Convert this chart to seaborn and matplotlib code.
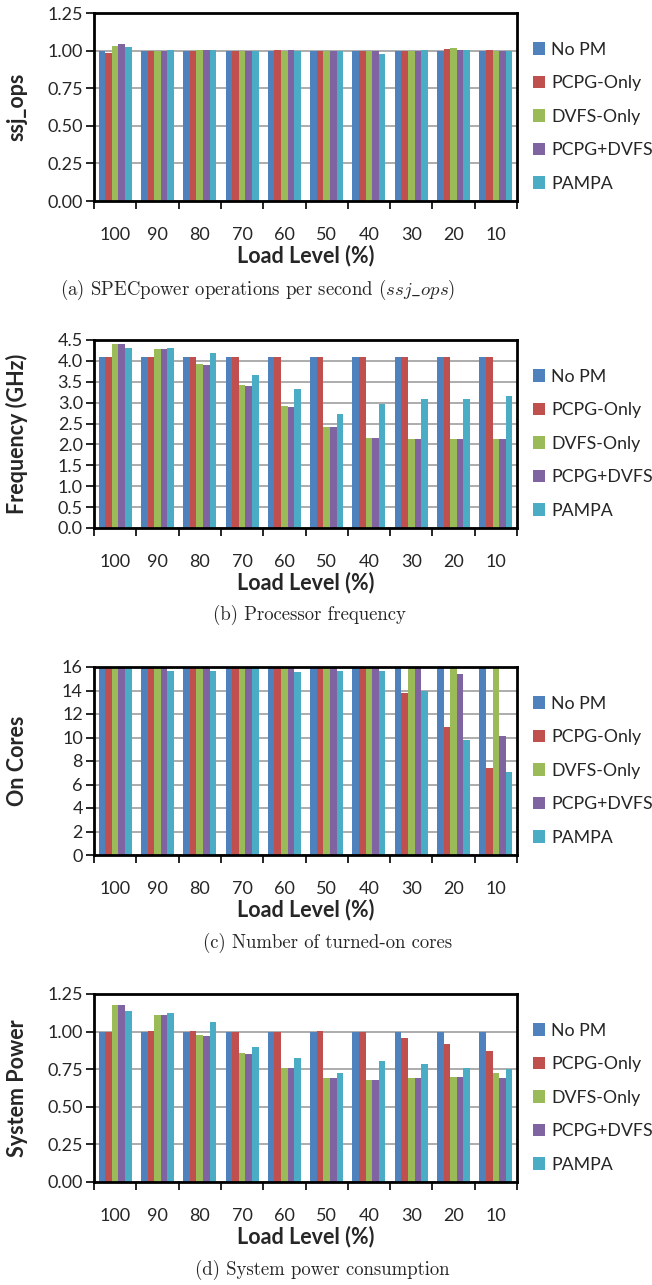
import numpy as np
import pandas as pd
import seaborn as sns
import matplotlib.pyplot as plt

# Load levels and power-management schemes
niveles = ["100", "90", "80", "70", "60", "50", "40", "30", "20", "10"]
esquemas = ["No PM", "PCPG-Only", "DVFS-Only", "PCPG+DVFS", "PAMPA"]
colores = ["#4F81BD", "#C0504D", "#9BBB59", "#8064A2", "#4BACC6"]

# (a) ssj_ops normalizado
ssj_nopm = [1.00, 1.00, 1.00, 1.00, 1.00, 1.00, 1.00, 1.00, 1.00, 1.00]
ssj_pcpg = [0.987, 1.00, 1.00, 1.00, 1.003, 1.00, 1.00, 1.00, 1.013, 1.005]
ssj_dvfs = [1.032, 1.00, 1.003, 1.00, 1.00, 1.00, 1.00, 1.00, 1.015, 0.995]
ssj_both = [1.041, 1.00, 1.003, 1.00, 1.003, 1.00, 1.00, 1.00, 1.003, 1.00]
ssj_pampa = [1.025, 1.003, 1.003, 0.998, 0.998, 1.00, 0.978, 1.003, 1.003, 1.00]

# (b) frecuencia (GHz)
frq_nopm = [4.1] * 10
frq_pcpg = [4.1] * 10
frq_dvfs = [4.40, 4.28, 3.93, 3.43, 2.93, 2.42, 2.15, 2.13, 2.13, 2.13]
frq_both = [4.40, 4.28, 3.90, 3.40, 2.90, 2.42, 2.15, 2.13, 2.13, 2.13]
frq_pampa = [4.31, 4.31, 4.19, 3.67, 3.33, 2.73, 2.97, 3.09, 3.09, 3.16]

# (c) nucleos encendidos
cor_nopm = [16] * 10
cor_pcpg = [16, 16, 16, 16, 16, 16, 15.9, 13.8, 10.9, 7.4]
cor_dvfs = [16] * 10
cor_both = [16, 16, 16, 16, 16, 16, 16, 16, 15.4, 10.1]
cor_pampa = [15.9, 15.65, 15.65, 16, 15.55, 15.65, 15.65, 13.95, 9.8, 7.1]

# (d) potencia del sistema normalizada
pow_nopm = [1.00] * 10
pow_pcpg = [1.00, 1.007, 1.007, 1.00, 1.00, 1.007, 1.00, 0.959, 0.919, 0.873]
pow_dvfs = [1.179, 1.112, 0.979, 0.859, 0.759, 0.693, 0.679, 0.693, 0.699, 0.726]
pow_both = [1.179, 1.112, 0.972, 0.853, 0.759, 0.693, 0.679, 0.693, 0.699, 0.693]
pow_pampa = [1.139, 1.121, 1.066, 0.899, 0.826, 0.726, 0.806, 0.786, 0.759, 0.753]

paneles = [
    ("ssj_ops", [ssj_nopm, ssj_pcpg, ssj_dvfs, ssj_both, ssj_pampa],
     np.arange(0, 1.26, 0.25), "{:.2f}",
     r"(a) SPECpower operations per second ($ssj\_ops$)", 0.395),
    ("Frequency (GHz)", [frq_nopm, frq_pcpg, frq_dvfs, frq_both, frq_pampa],
     np.arange(0, 4.51, 0.5), "{:.1f}",
     "(b) Processor frequency", 0.474),
    ("On Cores", [cor_nopm, cor_pcpg, cor_dvfs, cor_both, cor_pampa],
     np.arange(0, 17, 2), "{:.0f}",
     "(c) Number of turned-on cores", 0.503),
    ("System Power", [pow_nopm, pow_pcpg, pow_dvfs, pow_both, pow_pampa],
     np.arange(0, 1.26, 0.25), "{:.2f}",
     "(d) System power consumption", 0.495),
]

sns.set_style("white")
plt.rcParams["font.family"] = ["Lato", "DejaVu Sans"]
plt.rcParams["mathtext.fontset"] = "cm"

fig = plt.figure(figsize=(6.52, 12.85), dpi=100)
H = 1285.0
tops = [13, 340, 667, 994]
caps_y = [290, 615, 943, 1270]

for i, (ylab, series, yticks, fmt, caption, capx) in enumerate(paneles):
    top = tops[i]
    ax = fig.add_axes([94 / 652, 1 - (top + 188) / H, 423 / 652, 188 / H])
    df = pd.DataFrame({esq: vals for esq, vals in zip(esquemas, series)})
    df["Load"] = niveles
    df_long = df.melt(id_vars="Load", var_name="Esquema", value_name="Valor")
    sns.barplot(data=df_long, x="Load", y="Valor", hue="Esquema",
                order=niveles, hue_order=esquemas, palette=colores,
                saturation=1, width=0.78, gap=0, errorbar=None, linewidth=0,
                ax=ax, zorder=2)
    ax.set_xlim(-0.5, 9.5)
    ax.set_ylim(yticks[0], yticks[-1])
    ax.set_yticks(yticks)
    ax.set_yticklabels([fmt.format(v) for v in yticks])
    ax.yaxis.grid(True, color="#a6a6a6", lw=1.3, zorder=0)
    ax.set_axisbelow(True)
    ax.set_xticks(np.arange(-0.5, 10, 1))
    ax.set_xticklabels([])
    ax.set_xticks(np.arange(10), minor=True)
    ax.set_xticklabels(niveles, minor=True)
    ax.tick_params(axis="x", which="major", length=6, width=1.2, color="black",
                   direction="out", bottom=True)
    ax.tick_params(axis="x", which="minor", length=0, pad=19, labelsize=13)
    ax.tick_params(axis="y", length=6, width=1.2, color="black", direction="out",
                   left=True, labelsize=13, pad=2)
    for sp in ax.spines.values():
        sp.set_visible(True)
        sp.set_color("black")
        sp.set_linewidth(2)
    ax.set_xlabel("Load Level (%)", fontsize=15.5, fontweight="bold", labelpad=1)
    ax.set_ylabel(ylab, fontsize=15.5, fontweight="bold", va="center")
    ax.yaxis.set_label_coords(-0.182, 0.5)
    handles, labels = ax.get_legend_handles_labels()
    ax.legend(handles, labels, loc="center left", bbox_to_anchor=(1.02, 0.448),
              frameon=False, fontsize=12.8, handlelength=0.7, handleheight=0.7,
              handletextpad=0.35, labelspacing=0.98, borderaxespad=0)
    fig.text(capx, 1 - caps_y[i] / H, caption, ha="center", va="center",
             fontsize=13.5, family="cmr10")

fig.savefig("out.png", dpi=100)
